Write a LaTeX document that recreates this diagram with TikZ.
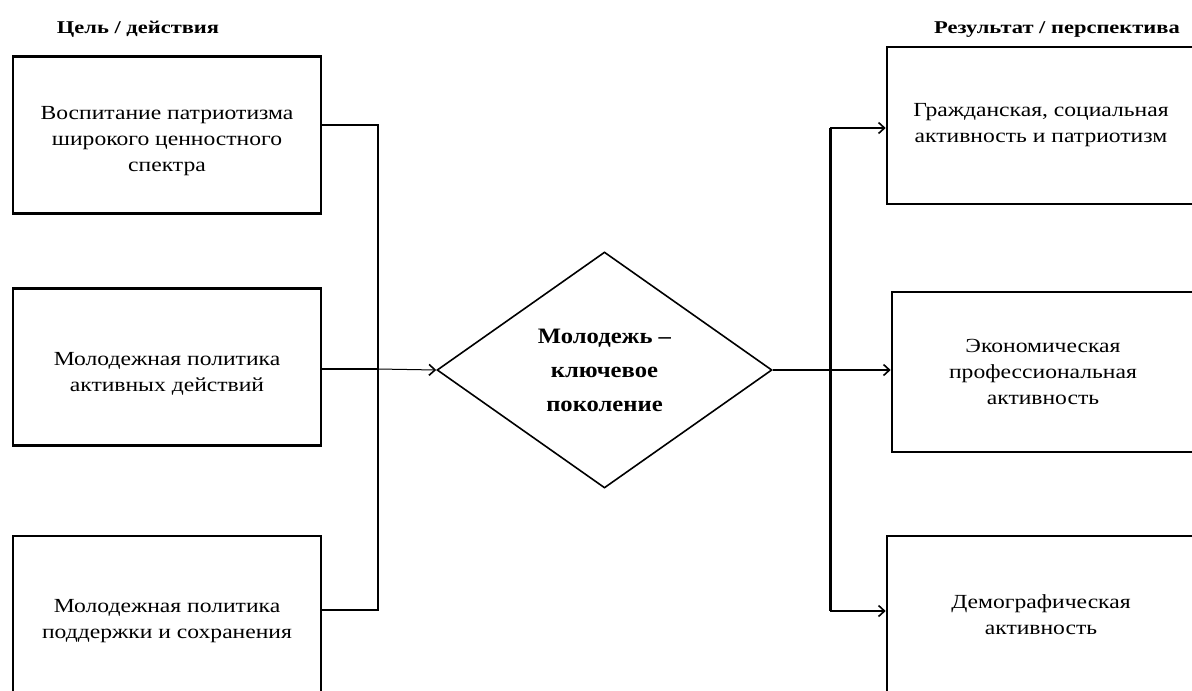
\documentclass[tikz,border=0pt]{standalone}
\usepackage{fontspec}
\setmainfont{Liberation Serif}
\newfontfamily\boxfont[FakeStretch=1.18]{Liberation Serif}
\newfontfamily\titlefont[FakeStretch=1.25]{Liberation Serif}
\newfontfamily\keyfont[FakeStretch=1.12]{Liberation Serif}
\newcommand\pushdn{\rule{0pt}{26pt}}
\newcommand\pushup{\rule[-13pt]{0pt}{0pt}}
\usetikzlibrary{shapes.geometric,arrows.meta}
\begin{document}
\begin{tikzpicture}[x=1pt,y=-1pt]
\tikzset{
  boxnode/.style={draw=black, line width=2.6pt, rectangle, minimum width=308pt, minimum height=157pt, inner sep=0pt, align=center, font=\boxfont\fontsize{20}{26}\selectfont},
  titlenode/.style={font=\titlefont\fontsize{18}{20}\selectfont\bfseries, inner sep=0pt, anchor=base},
  keynode/.style={draw=black, line width=1.6pt, diamond, minimum width=335pt, minimum height=236pt, inner sep=0pt, align=center, font=\keyfont\fontsize{22}{34}\selectfont\bfseries},
  thickconn/.style={line width=2.2pt},
  thinconn/.style={line width=1pt},
  tip/.style={-{Straight Barb[length=6pt,width=11pt,line width=1.6pt]}}
}
\useasboundingbox (0,0) rectangle (1192,691);
\clip (0,0) rectangle (1192,691);

\node[titlenode] (tl) at (138,33) {Цель / действия};
\node[titlenode] (tr) at (1057,33) {Результат / перспектива};

\node[boxnode] (l1) at (167,135) {\pushdn Воспитание патриотизма\\широкого ценностного\\спектра};
\node[boxnode] (l2) at (167,367) {\pushdn Молодежная политика\\активных действий};
\node[boxnode, minimum height=170pt] (l3) at (167,621) {Молодежная политика\\поддержки и сохранения};

\node[keynode] (d) at (604.5,370) {Молодежь –\\ключевое\\поколение};

\node[boxnode] (r1) at (1041,125.5) {Гражданская, социальная\\активность и патриотизм};
\node[boxnode, minimum width=302pt, minimum height=160pt] (r2) at (1043,372) {Экономическая\\профессиональная\\активность};
\node[boxnode, minimum height=170pt] (r3) at (1041,621) {Демографическая\\активность\pushup};

\coordinate (jL1) at (378,125);
\coordinate (jL2) at (378,369);
\coordinate (jL3) at (378,610);
\coordinate (jR1) at (830,128);
\coordinate (jR2) at (830,370);
\coordinate (jR3) at (830,611);

\draw[thickconn] (l1.east |- jL1) -- (jL1) -- (jL3) -- (l3.east |- jL3);
\draw[thickconn] (l2.east |- jL2) -- (jL2);
\draw[thinconn, tip] (jL2) -- (d.west);

\draw[thickconn] (d.east) -- (jR2);
\draw[line width=3pt] (jR1) -- (jR3);
\draw[thickconn, tip] (jR1) -- (r1.west |- jR1);
\draw[thickconn, tip] (jR2) -- (r2.west |- jR2);
\draw[thickconn, tip] (jR3) -- (r3.west |- jR3);
\end{tikzpicture}
\end{document}
